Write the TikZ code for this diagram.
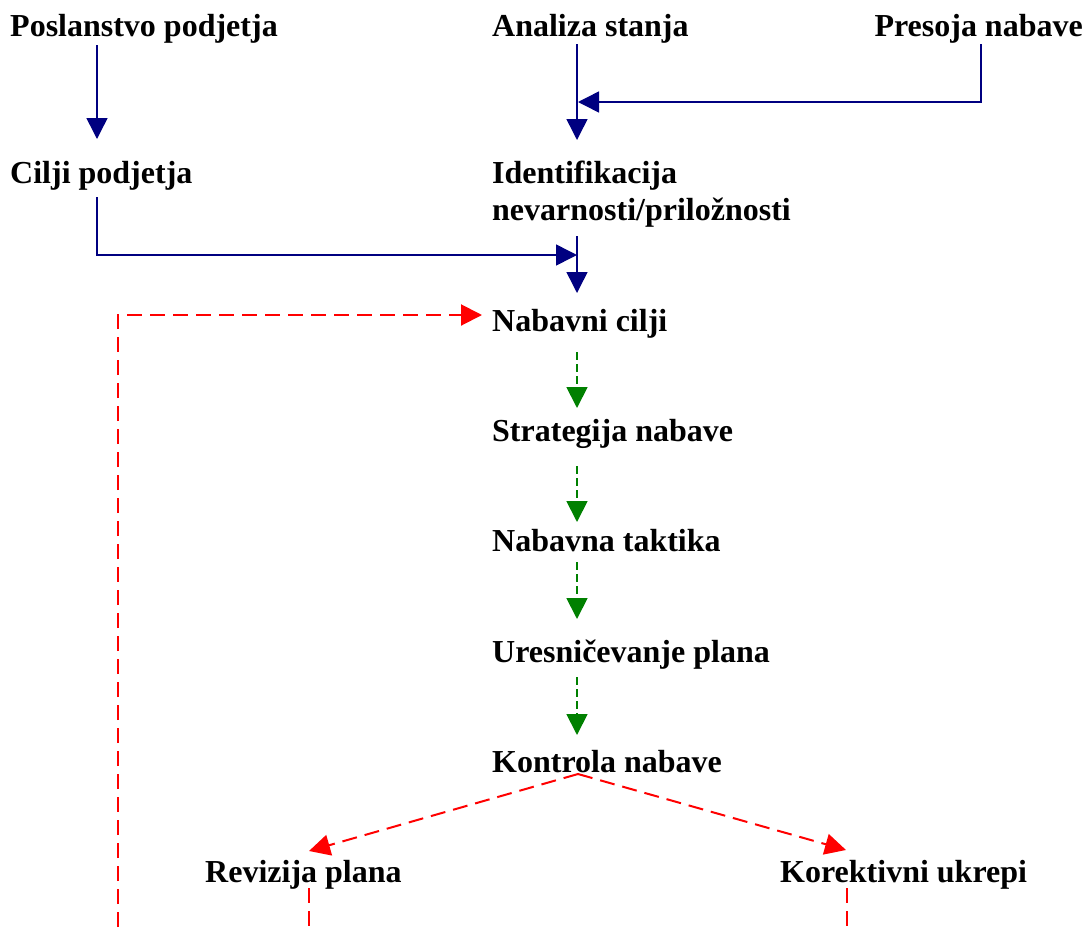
\documentclass[tikz,border=0pt]{standalone}
\usepackage{fontspec}
\setmainfont{Liberation Serif}
\usetikzlibrary{arrows.meta, calc}
\definecolor{flowcol}{RGB}{0,0,128}
\definecolor{plancol}{RGB}{0,128,0}
\definecolor{loopcol}{RGB}{255,0,0}

\begin{document}
\begin{tikzpicture}[
			x=1pt,
			y=-1pt,
			txt/.style={
				anchor=base west,
				inner sep=0pt,
				align=left,
				font=\fontsize{32}{37}\selectfont\bfseries
			},
			flow/.style={
				draw=flowcol,
				line width=1.5pt,
				-{Triangle[length=21pt,width=21pt]}
			},
			plan/.style={
				draw=plancol,
				line width=1.8pt,
				dash pattern=on 8pt off 4pt,
				-{Triangle[length=21pt,width=21pt]}
			},
			loop/.style={
				draw=loopcol,
				line width=2pt,
				dash pattern=on 15pt off 8pt,
				-{Triangle[length=21pt,width=21pt]}
			},
			loopline/.style={
				loop,
				-
			}
			]
			\useasboundingbox (0,0) rectangle (1087,927);
			
			% Nodes
			\node[txt] (posl) at (10,36) {Poslanstvo podjetja};
			\node[txt] (analiza) at (492,36) {Analiza stanja};
			\node[txt, anchor=base east] (presoja) at (1083,36) {Presoja nabave};
			\node[txt] (cilji) at (10,183) {Cilji podjetja};
			\node[txt] (ident) at (492,220) {Identifikacija\\nevarnosti/priložnosti};
			\node[txt] (nabcilji) at (492,331) {Nabavni cilji};
			\node[txt] (strat) at (492,441) {Strategija nabave};
			\node[txt] (taktika) at (492,551) {Nabavna taktika};
			\node[txt] (uresn) at (492,662) {Uresničevanje plana};
			\node[txt] (kontrola) at (492,772) {Kontrola nabave};
			\node[txt] (revizija) at (205,882) {Revizija plana};
			\node[txt] (korekt) at (780,882) {Korektivni ukrepi};
			
			% Joins and loose ends
			\coordinate (joinA) at ($(analiza.base west)+(86,66)$);
			\coordinate (joinB) at ($(ident.base west)+(85,35)$);
			\coordinate (loopend) at (118,927);
			\coordinate (revend) at ($(revizija.base west)+(104,45)$);
			\coordinate (korend) at ($(korekt.base west)+(67,45)$);
			
			% Inputs
			\draw[flow] ($(posl.base west)+(87,9)$) -- ($(cilji.base west)+(87,-44)$);
			\draw[flow] ($(analiza.base west)+(85,8)$) -- ($(ident.base west)+(85,-80)$);
			\draw[flow] ($(presoja.base east)+(-102,8)$) |- (joinA);
			\draw[flow] ($(cilji.base west)+(87,14)$) |- (joinB);
			\draw[flow] ($(ident.base west)+(85,16)$) -- ($(nabcilji.base west)+(85,-38)$);
			
			% Plan
			\draw[plan] ($(nabcilji.base west)+(85,21)$) -- ($(strat.base west)+(85,-33)$);
			\draw[plan] ($(strat.base west)+(85,25)$) -- ($(taktika.base west)+(85,-29)$);
			\draw[plan] ($(taktika.base west)+(85,11)$) -- ($(uresn.base west)+(85,-43)$);
			\draw[plan] ($(uresn.base west)+(85,15)$) -- ($(kontrola.base west)+(85,-37)$);
			
			% Feedback
			\draw[loop] ($(kontrola.base west)+(86,2)$) -- ($(revizija.base west)+(104,-31)$);
			\draw[loop] ($(kontrola.base west)+(86,2)$) -- ($(korekt.base west)+(66,-32)$);
			\draw[loopline] ($(revizija.base west)+(104,6)$) -- (revend);
			\draw[loopline] ($(korekt.base west)+(67,6)$) -- (korend);
			\draw[loop] (loopend) |- ($(nabcilji.base west)+(-10,-16)$);
		\end{tikzpicture}
\end{document}
